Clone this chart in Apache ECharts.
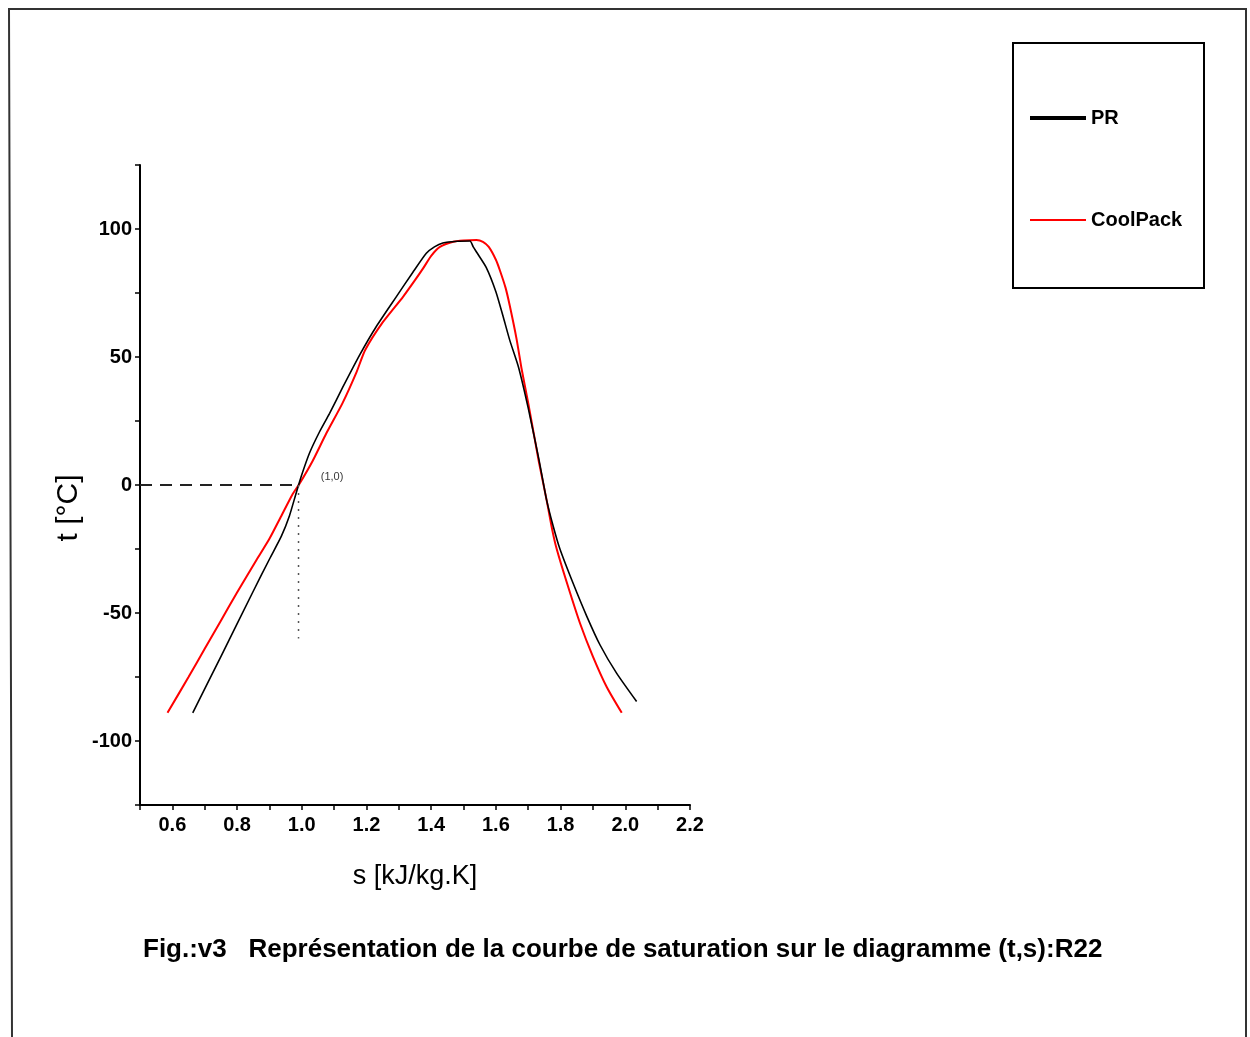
<!DOCTYPE html>
<html>
<head>
<meta charset="utf-8">
<script src="https://cdn.jsdelivr.net/npm/echarts@6/dist/echarts.min.js"></script>
<style>
html,body{margin:0;padding:0;background:#fff;}
#chart{width:1250px;height:1037px;}
</style>
</head>
<body>
<div id="chart"></div>
<script>
// PR (Peng-Robinson) saturation curve: entropy s [kJ/kg.K] and temperature t [°C]
const prS = [0.663,0.750,0.850,0.900,0.937,0.962,0.983,1.000,1.024,1.055,1.086,1.126,1.180,1.230,1.292,1.343,1.385,1.410,1.436,1.480,1.520,1.530,1.540,1.570,1.600,1.622,1.643,1.670,1.700,1.733,1.757,1.777,1.798,1.839,1.880,1.922,1.973,2.035];
const prT = [-89,-67,-41.5,-29,-20,-12,-3,4,12.5,20.8,28,38,51,61.8,73.5,83,90.5,93,94.5,95.2,95.3,93,91,85,75.5,66,56.5,46,30,10,-6,-16,-25,-38.5,-51,-62.5,-73.5,-84.6];
// CoolPack saturation curve
const cpS = [0.585,0.650,0.700,0.750,0.800,0.860,0.900,0.935,0.972,0.993,1.034,1.076,1.126,1.169,1.196,1.250,1.313,1.350,1.375,1.400,1.427,1.468,1.500,1.540,1.560,1.578,1.600,1.612,1.630,1.643,1.664,1.680,1.700,1.733,1.757,1.775,1.788,1.819,1.860,1.900,1.943,1.989];
const cpT = [-89,-75,-64,-53,-42,-29.3,-21,-12.5,-3.5,0.5,9.5,20.2,32,44,52.7,63.5,73.5,80,84.6,89.5,93,95,95.5,95.7,95,93,88,84,77,70,57,45,32,9,-6,-18,-25,-38,-54,-67,-79,-89];
// Reference point (s=1.0, t=0) guide lines
const refH = [[0.5,0],[0.99,0]];
const refV = [[0.99,0],[0.99,-60]];
const refPoint = [[1.0,0]];
const refLabel = '(1,0)';
// Axis settings
const xMin = 0.5, xMax = 2.2, xStep = 0.1;
const yMin = -125, yMax = 125, yStep = 25;

const zip = (a,b) => a.map((v,i)=>[v,b[i]]);

const chart = echarts.init(document.getElementById('chart'));
const font = 'Liberation Sans, Arial, sans-serif';
chart.setOption({
  animation:false,
  backgroundColor:'#fff',
  grid:{left:140,right:560,top:165,bottom:232},
  xAxis:{
    type:'value',min:xMin,max:xMax,interval:xStep,
    name:'s [kJ/kg.K]',nameLocation:'middle',nameGap:58,
    nameTextStyle:{fontFamily:font,fontSize:27,color:'#000'},
    axisLine:{onZero:false,lineStyle:{color:'#000',width:2}},
    axisTick:{length:5,lineStyle:{color:'#000',width:1.5}},
    axisLabel:{fontFamily:font,fontSize:20,fontWeight:'bold',color:'#000',margin:10,
      formatter:v=>{const k=Math.round(v*10);return (k%2===0&&k>=6)?(k/10).toFixed(1):'';}},
    splitLine:{show:false}
  },
  yAxis:{
    type:'value',min:yMin,max:yMax,interval:yStep,
    name:'t [°C]',nameLocation:'middle',nameGap:56,
    nameTextStyle:{fontFamily:font,fontSize:30,color:'#000',padding:[0,46,0,0]},
    axisLine:{onZero:false,lineStyle:{color:'#000',width:2}},
    axisTick:{length:5,lineStyle:{color:'#000',width:1.5}},
    axisLabel:{fontFamily:font,fontSize:20,fontWeight:'bold',color:'#000',margin:8,
      formatter:v=>(Math.round(v)%50===0)?String(Math.round(v)):''},
    splitLine:{show:false}
  },
  legend:{
    orient:'vertical',left:1030,top:108,padding:0,itemWidth:56,itemHeight:14,itemGap:82,
    textStyle:{fontFamily:font,fontSize:20,fontWeight:'bold',color:'#000'},
    data:[
      {name:'PR',icon:'path://M0 0H100V7H0Z',itemStyle:{color:'#000'}},
      {name:'CoolPack',icon:'path://M0 0H100V3.5H0Z',itemStyle:{color:'#ff0000'}}
    ]
  },
  graphic:[
    {type:'rect',shape:{x:1013,y:43,width:191,height:245},style:{fill:'none',stroke:'#000',lineWidth:2},z:-1},
    {type:'polyline',shape:{points:[[12,1037],[9,9],[1246,9],[1246,1037]]},style:{fill:'none',stroke:'#333',lineWidth:2}},
    {type:'text',left:143,top:937,style:{text:'Fig.:v3   Représentation de la courbe de saturation sur le diagramme (t,s):R22',fontFamily:font,fontSize:26,fontWeight:'bold',fill:'#000'}}
  ],
  series:[
    {name:'PR',type:'line',data:zip(prS,prT),showSymbol:false,symbol:'none',smooth:0.2,
      lineStyle:{color:'#000',width:1.6},itemStyle:{color:'#000'},z:3},
    {name:'CoolPack',type:'line',data:zip(cpS,cpT),showSymbol:false,symbol:'none',smooth:0.2,
      lineStyle:{color:'#ff0000',width:2},itemStyle:{color:'#ff0000'},z:2},
    {name:'refH',type:'line',data:refH,showSymbol:false,symbol:'none',
      lineStyle:{color:'#222',width:2,type:[12,8]},silent:true},
    {name:'refV',type:'line',data:refV,showSymbol:false,symbol:'none',
      lineStyle:{color:'#555',width:1.5,type:[2,6]},silent:true},
    {name:'refPt',type:'scatter',data:refPoint,symbolSize:0,silent:true,
      label:{show:true,formatter:refLabel,position:'right',offset:[14,-8],fontFamily:font,fontSize:11,color:'#000'}}
  ]
});
</script>
</body>
</html>
